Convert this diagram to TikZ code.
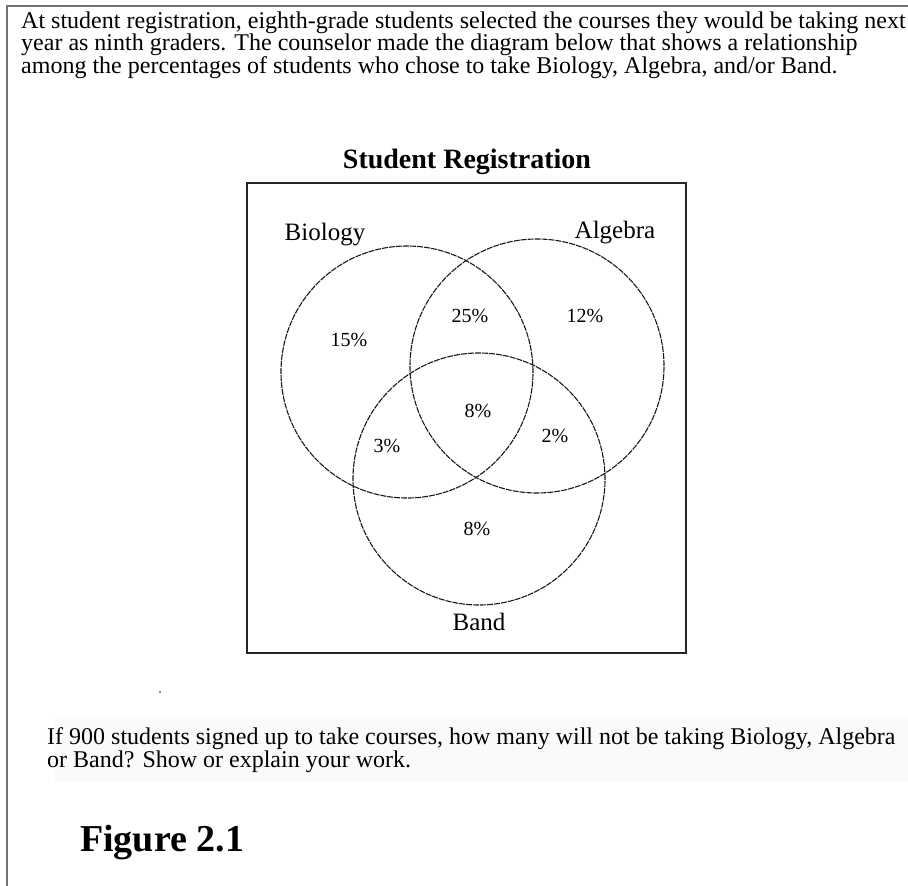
\documentclass[tikz,border=0pt]{standalone}
\usepackage{fontspec}
\setmainfont{Liberation Serif}
\begin{document}
\begin{tikzpicture}[x=1pt, y=-1pt,
    body/.style={anchor=base west, inner sep=0pt, font=\fontsize{24}{28}\selectfont},
    pct/.style={anchor=base, inner sep=0pt, font=\fontsize{20}{24}\selectfont},
    setname/.style={anchor=base, inner sep=0pt, font=\fontsize{25}{30}\selectfont},
    ring/.style={black!90, line width=1.1pt, dash pattern=on 6pt off 1pt}]
    \useasboundingbox (0,0) rectangle (908,886);
    % page frame
    \draw[black!55, line width=1.5pt] (908,6) -- (7,6) -- (7,886);
    % introduction
    \node[body] (intro1) at (21,28) {At student registration, eighth-grade students selected the courses they would be taking next};
    \node[body] (intro2) at (21,50.5) {year as ninth graders. The counselor made the diagram below that shows a relationship};
    \node[body] (intro3) at (21,73) {among the percentages of students who chose to take Biology, Algebra, and/or Band.};
    % diagram
    \node[anchor=base, inner sep=0pt, font=\fontsize{28}{32}\selectfont\bfseries] (title) at (467,168) {Student Registration};
    \draw[black!85, line width=1.4pt] (247,183) rectangle (686,653);
    \coordinate (bio) at (407,372);
    \coordinate (alg) at (537,366);
    \coordinate (band) at (479,479);
    \draw[ring] (bio) circle[radius=126pt];
    \draw[ring] (alg) circle[radius=127pt];
    \draw[ring] (band) circle[radius=126pt];
    \node[setname] (biolabel) at (325,240) {Biology};
    \node[setname] (alglabel) at (615,238) {Algebra};
    \node[setname] (bandlabel) at (479,630) {Band};
    \node[pct] (bioonly) at (349,346) {15\%};
    \node[pct] (bioalg) at (470,322) {25\%};
    \node[pct] (algonly) at (585,322) {12\%};
    \node[pct] (all) at (478,417) {8\%};
    \node[pct] (bioband) at (387,452) {3\%};
    \node[pct] (algband) at (555,442) {2\%};
    \node[pct] (bandonly) at (477,535) {8\%};
    % question
    \fill[black!2] (55,717) rectangle (908,782);
    \fill[black!70] (160,692) circle[radius=1pt];
    \node[body] (quest1) at (47,744) {If 900 students signed up to take courses, how many will not be taking Biology, Algebra};
    \node[body] (quest2) at (47,767) {or Band? Show or explain your work.};
    \node[anchor=base west, inner sep=0pt, font=\fontsize{38}{44}\selectfont\bfseries] (figlabel) at (80,851) {Figure 2.1};
\end{tikzpicture}
\end{document}
